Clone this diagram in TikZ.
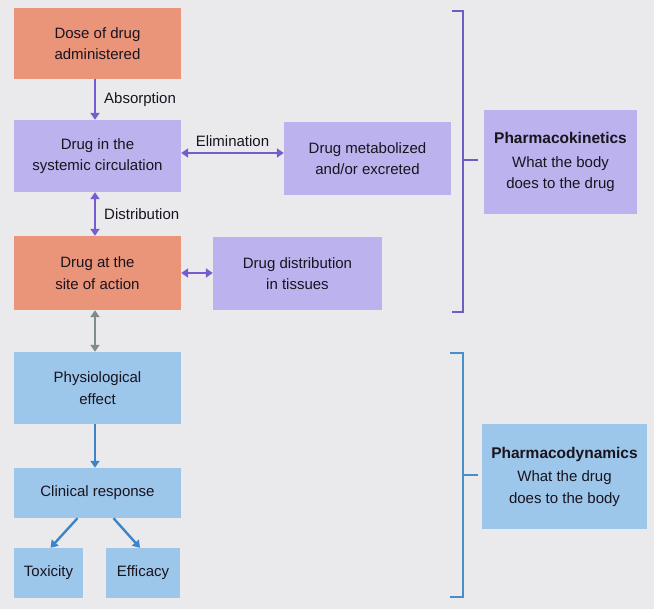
\documentclass[tikz,border=0pt]{standalone}
\usepackage{fontspec}
\setmainfont{Liberation Sans}
\usetikzlibrary{arrows.meta}
\definecolor{bg}{RGB}{234,234,237}
\definecolor{salmon}{RGB}{234,148,122}
\definecolor{lav}{RGB}{188,178,238}
\definecolor{lblue}{RGB}{156,198,234}
\definecolor{purp}{RGB}{118,92,205}
\definecolor{barr}{RGB}{62,132,200}
\definecolor{garr}{RGB}{128,140,138}
\definecolor{pbrk}{RGB}{112,92,196}
\definecolor{bbrk}{RGB}{72,142,202}
\definecolor{txt}{RGB}{25,20,30}
\tikzset{
  box/.style={inner sep=2pt, align=center, text=txt,
    font=\fontsize{15}{21.5}\selectfont},
  orbox/.style={box, fill=salmon},
  lavbox/.style={box, fill=lav},
  bluebox/.style={box, fill=lblue},
  lbl/.style={text=txt, inner sep=0pt, font=\fontsize{15}{18}\selectfont},
  conn/.style={line width=2.4pt, -{Triangle[width=9pt,length=7pt]}},
  dconn/.style={line width=2.4pt, {Triangle[width=9pt,length=7pt]}-{Triangle[width=9pt,length=7pt]}},
  brk/.style={line width=1.5pt},
}
\begin{document}
\begin{tikzpicture}[x=1pt,y=-1pt]
\fill[bg] (0,0) rectangle (654,609);
\useasboundingbox (0,0) rectangle (654,609);

\node[orbox, minimum width=167pt, minimum height=71pt] (dose) at (97.5,43.5) {Dose of drug\\administered};
\node[lavbox, minimum width=167pt, minimum height=72pt] (sys) at (97.5,156) {Drug in the\\systemic circulation};
\node[lavbox, minimum width=167pt, minimum height=73pt] (met) at (367.5,158.5) {Drug metabolized\\and/or excreted};
\node[orbox, minimum width=167pt, minimum height=74pt] (site) at (97.5,273) {Drug at the\\site of action};
\node[lavbox, minimum width=169pt, minimum height=73pt] (tis) at (297.5,273.5) {Drug distribution\\in tissues};
\node[lavbox, minimum width=153pt, minimum height=104pt] (pk) at (560.5,162)
  {{\fontsize{15.5}{21}\selectfont\bfseries Pharmacokinetics}\\[2pt]What the body\\does to the drug};
\node[bluebox, minimum width=167pt, minimum height=72pt] (phys) at (97.5,388) {Physiological\\effect};
\node[bluebox, minimum width=167pt, minimum height=50pt] (clin) at (97.5,493) {Clinical response};
\node[bluebox, minimum width=69pt, minimum height=50pt] (tox) at (48.5,573) {Toxicity};
\node[bluebox, minimum width=74pt, minimum height=50pt] (eff) at (143,573) {Efficacy};
\node[bluebox, minimum width=165pt, minimum height=105pt] (pd) at (564.5,476.5)
  {{\fontsize{15.5}{21}\selectfont\bfseries Pharmacodynamics}\\[2pt]What the drug\\does to the body};

% connectors
\draw[conn, purp] ([xshift=-2.5pt]dose.south) -- ([xshift=-2.5pt]sys.north)
  node[lbl, midway, right=8pt] (absl) {Absorption};
\draw[dconn, purp] ([xshift=-2.5pt]sys.south) -- ([xshift=-2.5pt]site.north)
  node[lbl, midway, right=8pt] (disl) {Distribution};
\draw[dconn, purp] ([yshift=3pt]sys.east) -- ([yshift=3pt]sys.east -| met.west)
  node[lbl, midway, above=5pt] (elil) {Elimination};
\draw[dconn, purp] (site.east) -- (site.east -| tis.west);
\draw[dconn, garr] ([xshift=-2.5pt]site.south) -- ([xshift=-2.5pt]phys.north);
\draw[conn, barr] ([xshift=-2.5pt]phys.south) -- ([xshift=-2.5pt]clin.north);
\draw[conn, barr] ([xshift=-20pt]clin.south) -- ([xshift=2pt]tox.north);
\draw[conn, barr] ([xshift=16pt]clin.south) -- ([xshift=-3pt]eff.north);

% brackets
\coordinate (pkt) at (452,11);
\coordinate (pkb) at (452,312);
\draw[brk, pbrk] (pkt) -- (463,11) -- (463,312) -- (pkb);
\draw[brk, pbrk] (463,160) -- (478,160);
\coordinate (pdt) at (450,353);
\coordinate (pdb) at (450,597);
\draw[brk, bbrk] (pdt) -- (463,353) -- (463,597) -- (pdb);
\draw[brk, bbrk] (463,475) -- (478,475);
\end{tikzpicture}
\end{document}
